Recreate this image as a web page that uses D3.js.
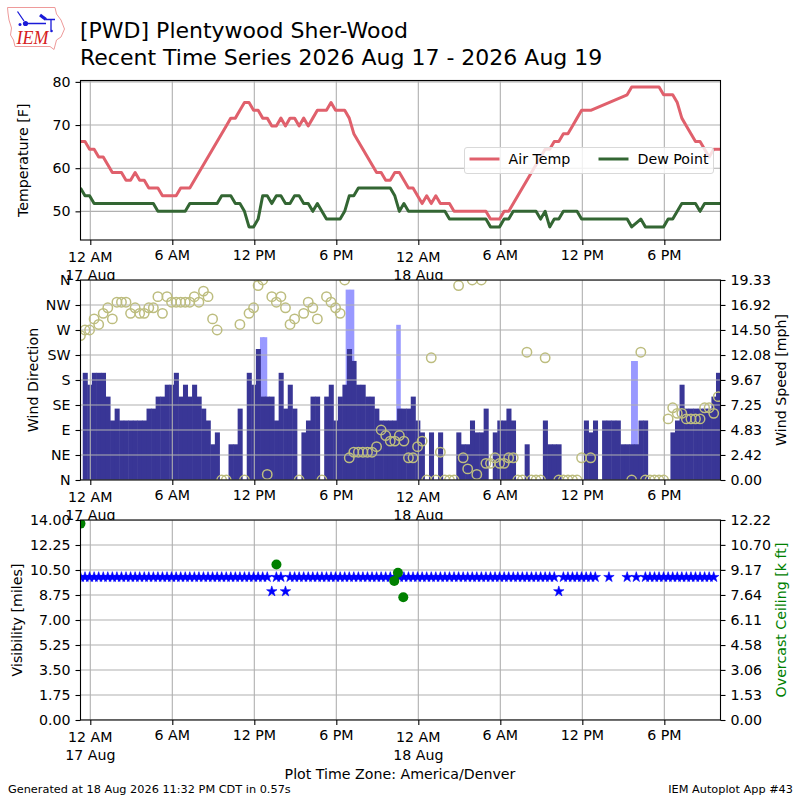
<!DOCTYPE html>
<html>
<head>
<meta charset="utf-8">
<script src="https://cdn.jsdelivr.net/npm/d3@7"></script>
<style>
  html, body { margin: 0; padding: 0; background: #fff; }
  svg { display: block; }
  text { font-family: "DejaVu Sans", sans-serif; fill: #000; }
</style>
</head>
<body>
<div id="chart"></div>
<script>
// one observation every 20 minutes, hours counted from midnight 17 Aug
const startHour = -0.72;
const stepHours = 1 / 3;

const airTemp = [
  66.2,66.2,64.4,64.4,62.6,62.6,60.8,59,59,59,
  57.2,57.2,59,57.2,57.2,55.4,55.4,55.4,53.6,53.6,
  53.6,53.6,55.4,55.4,55.4,57.2,59,60.8,62.6,64.4,
  66.2,68,69.8,71.6,71.6,73.4,75.2,75.2,73.4,73.4,
  71.6,71.6,69.8,69.8,71.6,69.8,71.6,71.6,69.8,71.6,
  69.8,71.6,73.4,73.4,73.4,75.2,73.4,73.4,73.4,71.6,
  68,66.2,64.4,62.6,60.8,59,59,57.2,57.2,59,
  59,57.2,55.4,55.4,53.6,51.8,53.6,51.8,53.6,51.8,
  51.8,51.8,50,50,50,50,50,50,50,50,
  48.2,48.2,48.2,50,50,51.8,53.6,55.4,57.2,59,
  60.8,62.6,64.4,64.4,66.2,66.2,68,68,69.8,71.6,
  73.4,73.4,73.4,null,null,null,null,null,null,null,
  77,78.8,78.8,78.8,78.8,78.8,78.8,78.8,77,77,
  77,75.2,71.6,69.8,68,66.2,66.2,64.4,62.6,64.4,
  64.4,64.4
];

const dewPoint = [
  55.4,53.6,53.6,51.8,51.8,51.8,51.8,51.8,51.8,51.8,
  51.8,51.8,51.8,51.8,51.8,51.8,51.8,50,50,50,
  50,50,50,50,51.8,51.8,51.8,51.8,51.8,51.8,
  51.8,53.6,53.6,53.6,51.8,51.8,50,46.4,46.4,48.2,
  53.6,53.6,51.8,53.6,53.6,51.8,51.8,53.6,53.6,51.8,
  51.8,50,51.8,50,48.2,48.2,48.2,48.2,50,53.6,
  53.6,55.4,55.4,55.4,55.4,55.4,55.4,55.4,55.4,53.6,
  50,51.8,50,50,50,50,50,50,50,50,
  50,48.2,48.2,48.2,48.2,48.2,48.2,48.2,48.2,48.2,
  46.4,46.4,46.4,48.2,48.2,50,50,50,50,50,
  50,48.2,50,46.4,48.2,48.2,50,50,50,50,
  48.2,48.2,48.2,null,null,null,null,null,null,null,
  48.2,46.4,null,48.2,46.4,46.4,46.4,46.4,46.4,48.2,
  48.2,50,51.8,51.8,51.8,51.8,50,51.8,51.8,51.8,
  51.8,51.8
];

const windSpeed = [
  0,10.36,9.21,10.36,10.36,10.36,8.06,5.75,6.9,5.75,
  5.75,5.75,5.75,5.75,5.75,6.9,6.9,8.06,8.06,9.21,
  9.21,10.36,8.06,9.21,8.06,9.21,8.06,6.9,5.75,3.45,
  4.6,0,0,3.45,3.45,6.9,0,10.36,9.21,12.66,
  8.06,8.06,8.06,5.75,10.36,6.9,9.21,6.9,0,4.6,
  5.75,8.06,8.06,0,8.06,9.21,5.75,8.06,9.21,12.66,
  11.51,9.21,9.21,8.06,8.06,6.9,5.75,5.75,5.75,5.75,
  6.9,6.9,6.9,8.06,5.75,4.6,0,4.6,0,4.6,
  0,0,0,4.6,3.45,3.45,5.75,4.6,4.6,6.9,
  0,4.6,5.75,5.75,6.9,5.75,0,0,3.45,0,
  0,0,5.75,3.45,3.45,3.45,0,0,0,0,
  0,5.75,4.6,5.75,0,5.75,5.75,5.75,5.75,3.45,
  3.45,3.45,3.45,5.75,5.75,0,0,0,0,0,
  4.6,5.75,9.21,6.9,6.9,6.9,6.9,6.9,6.9,8.06,
  10.36,10.36
];

const windDir = [
  260,270,270,290,280,300,310,290,320,320,
  320,300,310,300,300,310,310,330,300,330,
  320,320,320,320,320,330,320,340,330,290,
  270,0,0,null,null,280,0,300,310,350,
  360,10,330,320,330,310,280,290,0,300,
  320,310,290,0,330,320,310,300,360,40,
  50,50,50,50,50,60,90,80,70,70,
  80,70,40,40,60,70,0,220,0,50,
  0,0,0,350,40,20,360,10,360,30,
  30,40,30,30,40,40,0,0,230,0,
  0,0,220,null,null,0,0,0,0,0,
  40,null,40,null,null,null,null,null,null,null,
  null,0,null,230,0,0,0,0,0,110,
  130,120,120,110,110,110,110,130,130,120,
  150
];

const gustHours = [12.58, 12.78, 18.85, 19.15, 22.55, 39.73, 39.9];
const gustSpeed = [13.8, 13.8, 18.4, 18.4, 15, 11.5, 11.5];

const visibility = [
  10,10,10,10,10,10,10,10,10,10,
  10,10,10,10,10,10,10,10,10,10,
  10,10,10,10,10,10,10,10,10,10,
  10,10,10,10,10,10,10,10,10,10,
  10,10,9,10,10,9,10,10,10,10,
  10,10,10,10,10,10,10,10,10,10,
  10,10,10,10,10,10,10,10,10,10,
  10,10,10,10,10,10,10,10,10,10,
  10,10,10,10,10,10,10,10,10,10,
  10,10,10,10,10,10,10,10,10,10,
  10,10,10,10,10,9,10,10,10,10,
  10,10,10,10,null,null,10,null,null,null,
  10,null,10,null,10,10,10,10,10,10,
  10,10,10,10,10,10,10,10,10,10,
  null
];

const ceilingHours = [-0.72, 13.62, 22.51, 22.24, 22.9];
const ceilingKft = [12, 9.5, 9, 8.5, 7.5];

const hourTicks = [0, 6, 12, 18, 24, 30, 36, 42];
const hourLabels = ["12 AM|17 Aug", "6 AM", "12 PM", "6 PM", "12 AM|18 Aug", "6 AM", "12 PM", "6 PM"];
const tempTicks = [50, 60, 70, 80];
const dirTicks = [0, 45, 90, 135, 180, 225, 270, 315, 360];
const dirLabels = ["N", "NE", "E", "SE", "S", "SW", "W", "NW", "N"];
const speedTicks = [0, 2.42, 4.83, 7.25, 9.67, 12.08, 14.5, 16.92, 19.33];
const visTicks = [0, 1.75, 3.5, 5.25, 7, 8.75, 10.5, 12.25, 14];
const ceilTicks = [0, 1.53, 3.06, 4.58, 6.11, 7.64, 9.17, 10.7, 12.22];

const titleLines = ["[PWD] Plentywood Sher-Wood", "Recent Time Series 2026 Aug 17 - 2026 Aug 19"];

const timeOf = i => startHour + i * stepHours;

const left = 80.5, right = 720.5;
const fontSize = "14.2px";
const x = d3.scaleLinear().domain([-0.717, 46.11]).range([left, right]);
const barWidth = x(stepHours) - x(0);

const svg = d3.select("#chart").append("svg").attr("width", 800).attr("height", 800);
svg.append("rect").attr("width", 800).attr("height", 800).attr("fill", "#fff");

// logo
const logo = svg.append("g");
logo.append("path")
  .attr("d", "M7.5,7.5 L55,7.5 L56.5,14 L61,20 L64.5,29 L61,37 L56.5,40 L54,49.5 L50,46.5 L15,46.5 L13.5,40 L10.5,35 L11.5,28 L9,20 L8,13 Z")
  .attr("fill", "none").attr("stroke", "#ee9a9a").attr("stroke-width", 1);
logo.append("path")
  .attr("d", "M25,23.5 L46,23.5 M51,19.5 L51,30 M46,19.5 L55,19.5 M17.5,11.5 L24,21")
  .attr("fill", "none").attr("stroke", "#1a1ad8").attr("stroke-width", 1.3);
logo.append("path")
  .attr("d", "M40,15 L46,19.5").attr("fill", "none").attr("stroke", "#1a1ad8").attr("stroke-width", 3.2);
logo.append("circle").attr("cx", 25.5).attr("cy", 23.5).attr("r", 2.6).attr("fill", "#1a1ad8");
logo.append("circle").attr("cx", 20).attr("cy", 24.5).attr("r", 1.5).attr("fill", "#1a1ad8");
logo.append("circle").attr("cx", 51.5).attr("cy", 31).attr("r", 1.3).attr("fill", "#1a1ad8");
logo.append("text").attr("x", 16.5).attr("y", 44).text("IEM")
  .style("font-family", "'Liberation Serif', serif").style("font-style", "italic")
  .style("font-size", "18px").style("fill", "#d62020");

// title
svg.selectAll(".title").data(titleLines).enter().append("text")
  .attr("class", "title").attr("x", 80).attr("y", (d, i) => 37.5 + i * 27)
  .style("font-size", "22px").text(d => d);

let clipCount = 0;

function makePanel(top, bottom) {
  const g = svg.append("g");
  g.append("rect").attr("x", left).attr("y", top).attr("width", right - left)
    .attr("height", bottom - top).attr("fill", "#fff");
  const id = "clip" + (clipCount++);
  g.append("clipPath").attr("id", id).append("rect")
    .attr("x", left).attr("y", top).attr("width", right - left).attr("height", bottom - top);
  const marks = g.append("g").attr("clip-path", `url(#${id})`);
  return { g, marks, top, bottom };
}

function drawGrid(panel, yScale, yTicks) {
  const grid = panel.marks.append("g").attr("stroke", "#b0b0b0").attr("stroke-width", 1.1);
  grid.selectAll(".v").data(hourTicks).enter().append("line")
    .attr("x1", d => x(d)).attr("x2", d => x(d)).attr("y1", panel.top).attr("y2", panel.bottom);
  grid.selectAll(".h").data(yTicks).enter().append("line")
    .attr("x1", left).attr("x2", right).attr("y1", d => yScale(d)).attr("y2", d => yScale(d));
}

function drawFrame(panel) {
  panel.g.append("rect").attr("x", left).attr("y", panel.top).attr("width", right - left)
    .attr("height", panel.bottom - panel.top)
    .attr("fill", "none").attr("stroke", "#000").attr("stroke-width", 1.1);

  const axis = d3.axisBottom(x).tickValues(hourTicks).tickSize(5).tickFormat("");
  const ag = panel.g.append("g").attr("transform", `translate(0,${panel.bottom})`).call(axis);
  ag.select(".domain").remove();
  ag.selectAll("line").attr("stroke", "#000").attr("stroke-width", 1.1);

  hourTicks.forEach((h, i) => {
    const parts = hourLabels[i].split("|");
    const two = parts.length > 1;
    parts.forEach((p, k) => {
      panel.g.append("text").attr("x", x(h)).attr("y", panel.bottom + (two ? 22 + k * 17.5 : 20))
        .attr("text-anchor", "middle").style("font-size", fontSize).text(p);
    });
  });
}

function yAxis(panel, scale, ticks, fmt, side) {
  const axis = (side === "left" ? d3.axisLeft(scale) : d3.axisRight(scale))
    .tickValues(ticks).tickSize(5).tickPadding(5).tickFormat(fmt);
  const ag = panel.g.append("g").attr("transform", `translate(${side === "left" ? left : right},0)`).call(axis);
  ag.select(".domain").remove();
  ag.selectAll("line").attr("stroke", "#000").attr("stroke-width", 1.1);
  ag.selectAll("text").style("font-size", fontSize).style("font-family", "'DejaVu Sans'");
}

function yLabel(panel, txt, xPos, color) {
  const cy = (panel.top + panel.bottom) / 2;
  panel.g.append("text").attr("transform", `translate(${xPos},${cy}) rotate(-90)`)
    .attr("text-anchor", "middle").style("font-size", fontSize)
    .style("fill", color || "#000").text(txt);
}

// --- temperature panel
const p1 = makePanel(80.5, 240);
const yTemp = d3.scaleLinear().domain([43.36, 80.32]).range([240, 80.5]);
drawGrid(p1, yTemp, tempTicks);

const tempLine = d3.line().x(d => x(d.h)).y(d => yTemp(d.v));
const toPoints = arr => arr.map((v, i) => ({ h: timeOf(i), v })).filter(d => d.v !== null);

p1.marks.append("path").datum(toPoints(airTemp)).attr("d", tempLine)
  .attr("fill", "none").attr("stroke", "#e0606c").attr("stroke-width", 3).attr("stroke-linejoin", "round");
p1.marks.append("path").datum(toPoints(dewPoint)).attr("d", tempLine)
  .attr("fill", "none").attr("stroke", "#336633").attr("stroke-width", 3).attr("stroke-linejoin", "round");

drawFrame(p1);
yAxis(p1, yTemp, tempTicks, d => d, "left");
yLabel(p1, "Temperature [F]", 28);

// legend
const lg = p1.g.append("g");
lg.append("rect").attr("x", 464.5).attr("y", 147.5).attr("width", 249).attr("height", 26).attr("rx", 2.5)
  .attr("fill", "#fff").attr("fill-opacity", 0.8).attr("stroke", "#d9d9d9").attr("stroke-width", 1);
[["Air Temp", "#e0606c", 469.5], ["Dew Point", "#336633", 598.5]].forEach(d => {
  lg.append("line").attr("x1", d[2]).attr("x2", d[2] + 30).attr("y1", 159).attr("y2", 159)
    .attr("stroke", d[1]).attr("stroke-width", 3);
  lg.append("text").attr("x", d[2] + 39).attr("y", 164).style("font-size", fontSize).text(d[0]);
});

// --- wind panel
const p2 = makePanel(280, 480);
const yDir = d3.scaleLinear().domain([0, 360]).range([480, 280]);
const ySpeed = d3.scaleLinear().domain([0, 19.33]).range([480, 280]);

p2.marks.selectAll(".gust").data(gustHours).enter().append("rect")
  .attr("x", d => x(d) - barWidth / 2).attr("width", barWidth)
  .attr("y", (d, i) => ySpeed(gustSpeed[i])).attr("height", (d, i) => 480 - ySpeed(gustSpeed[i]))
  .attr("fill", "#9999ff");

// slight overlap so neighbouring bars do not show seams
p2.marks.selectAll(".speed").data(windSpeed).enter().append("rect")
  .attr("x", (d, i) => x(timeOf(i)) - barWidth / 2).attr("width", barWidth + 0.5)
  .attr("y", d => ySpeed(d)).attr("height", d => 480 - ySpeed(d))
  .attr("fill", "#393696");

drawGrid(p2, yDir, dirTicks);

p2.marks.selectAll(".dir").data(toPoints(windDir)).enter().append("circle")
  .attr("cx", d => x(d.h)).attr("cy", d => yDir(d.v)).attr("r", 4.7)
  .attr("fill", "none").attr("stroke", "#bdbd7f").attr("stroke-width", 1.5);

drawFrame(p2);
yAxis(p2, yDir, dirTicks, (d, i) => dirLabels[i], "left");
yAxis(p2, ySpeed, speedTicks, d => d.toFixed(2), "right");
yLabel(p2, "Wind Direction", 38);
yLabel(p2, "Wind Speed [mph]", 786);

// --- visibility panel
const p3 = makePanel(520, 720);
const yVis = d3.scaleLinear().domain([0, 14]).range([720, 520]);
const yCeil = d3.scaleLinear().domain([0, 12.22]).range([720, 520]);
drawGrid(p3, yVis, visTicks);

const star = d3.symbol().type(d3.symbolStar).size(34);
p3.marks.selectAll(".vis").data(toPoints(visibility)).enter().append("path")
  .attr("d", star).attr("transform", d => `translate(${x(d.h)},${yVis(d.v)})`)
  .attr("fill", "#0000ff").attr("stroke", "#0000ff").attr("stroke-width", 0.6);

p3.marks.selectAll(".ceil").data(ceilingHours).enter().append("circle")
  .attr("cx", d => x(d)).attr("cy", (d, i) => yCeil(ceilingKft[i])).attr("r", 5)
  .attr("fill", "#008000");

drawFrame(p3);
yAxis(p3, yVis, visTicks, d => d.toFixed(2), "left");
yAxis(p3, yCeil, ceilTicks, d => d.toFixed(2), "right");
yLabel(p3, "Visibility [miles]", 22);
yLabel(p3, "Overcast Ceiling [k ft]", 786, "#008000");

// footer
svg.append("text").attr("x", 400).attr("y", 779).attr("text-anchor", "middle")
  .style("font-size", fontSize).text("Plot Time Zone: America/Denver");
svg.append("text").attr("x", 8).attr("y", 793).style("font-size", "11.3px")
  .text("Generated at 18 Aug 2026 11:32 PM CDT in 0.57s");
svg.append("text").attr("x", 793).attr("y", 793).attr("text-anchor", "end").style("font-size", "11.3px")
  .text("IEM Autoplot App #43");
</script>
</body>
</html>
